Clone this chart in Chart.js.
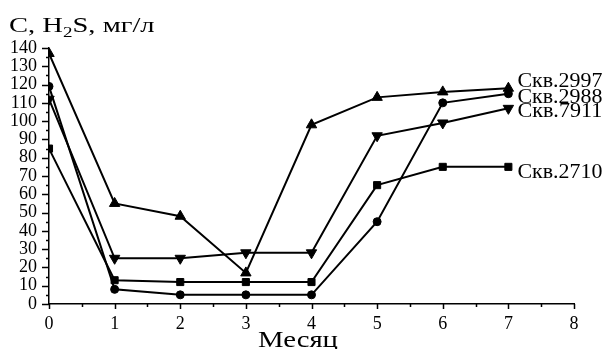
<!DOCTYPE html>
<html><head><meta charset="utf-8">
<script src="https://cdn.jsdelivr.net/npm/chart.js@4"></script>
<style>html,body{margin:0;padding:0;background:#fff}</style>
</head><body>
<canvas id="c" width="605" height="349"></canvas>
<script>
const months = [0, 1, 2, 3, 4, 5, 6, 7];
const s2997 = [137, 55, 48, 17, 98, 113, 116, 118];
const s2988 = [119, 8, 5, 5, 5, 45, 110, 115];
const s7911 = [112, 25, 25, 28, 28, 92, 99, 107];
const s2710 = [85, 13, 12, 12, 12, 65, 75, 75];
const seriesNames = ['Скв.2997', 'Скв.2988', 'Скв.7911', 'Скв.2710'];
const yTitleParts = ['C, H', '2', 'S, мг/л'];
const xTitle = 'Месяц';

const FONT = "'Liberation Serif', 'Times New Roman', serif";
const labelDy = [-8, 2, 2, 4];

function pts(arr){ return months.map((m,i)=>({x:m, y:arr[i]})); }
function ds(label, arr, style, radius, rot){
  return {label, data: pts(arr), borderColor:'#000', backgroundColor:'#000',
    borderWidth:2, pointStyle: style, pointRadius: radius, pointRotation: rot||0,
    pointBorderWidth:1, pointBorderColor:'#000', pointBackgroundColor:'#000', tension:0};
}

function stretchText(ctx, text, x, y, size, width){
  ctx.save();
  ctx.font = size + 'px ' + FONT;
  const w = ctx.measureText(text).width;
  const sx = width ? width / w : 1;
  ctx.translate(x, y);
  ctx.scale(sx, 1);
  ctx.fillText(text, 0, 0);
  ctx.restore();
  return w * sx;
}

const deco = {
  id: 'deco',
  afterDraw(chart){
    const ctx = chart.ctx;
    const xs = chart.scales.x, ys = chart.scales.y;
    const left = chart.chartArea.left, bottom = chart.chartArea.bottom;
    ctx.save();
    ctx.strokeStyle = '#000'; ctx.lineWidth = 1.5;
    ctx.beginPath();
    for (let v = 0; v <= 140; v += 5){
      const p = Math.round(ys.getPixelForValue(v)) + 0.5;
      const len = v % 10 === 0 ? 7 : 3;
      ctx.moveTo(left - len, p); ctx.lineTo(left, p);
    }
    for (let v = 0; v <= 8; v += 0.5){
      const p = Math.round(xs.getPixelForValue(v)) + 0.5;
      const len = v % 1 === 0 ? 5 : 3;
      ctx.moveTo(p, bottom); ctx.lineTo(p, bottom + len);
    }
    ctx.stroke();
    ctx.fillStyle = '#000';
    ctx.textBaseline = 'alphabetic';
    ctx.textAlign = 'left';
    const sx = 1.36;
    ctx.save(); ctx.translate(9, 32); ctx.scale(sx, 1);
    ctx.font = '21px ' + FONT;
    let cx = 0;
    ctx.fillText(yTitleParts[0], cx, 0); cx += ctx.measureText(yTitleParts[0]).width;
    ctx.font = '14px ' + FONT;
    ctx.fillText(yTitleParts[1], cx, 5); cx += ctx.measureText(yTitleParts[1]).width;
    ctx.font = '21px ' + FONT;
    ctx.fillText(yTitleParts[2], cx, 0);
    ctx.restore();
    stretchText(ctx, xTitle, 258, 347, 23, 80);
    chart.data.datasets.forEach((d, i) => {
      const meta = chart.getDatasetMeta(i);
      const el = meta.data[meta.data.length - 1];
      stretchText(ctx, seriesNames[i], el.x + 9, el.y + labelDy[i] + 7, 20, 85);
    });
    ctx.restore();
  }
};

new Chart(document.getElementById('c'), {
  type: 'line',
  data: { datasets: [
    ds(seriesNames[0], s2997, 'triangle', 6),
    ds(seriesNames[1], s2988, 'circle', 4),
    ds(seriesNames[2], s7911, 'triangle', 6, 180),
    ds(seriesNames[3], s2710, 'rect', 5)
  ]},
  options: {
    responsive: false, animation: false, devicePixelRatio: 1,
    layout: { padding: { top: 48, right: 31, left: 0, bottom: 0 } },
    plugins: { legend: { display: false }, tooltip: { enabled: false } },
    scales: {
      x: { type: 'linear', min: 0, max: 8,
        ticks: { stepSize: 1, autoSkip: false, maxRotation: 0, color: '#000', padding: 1, font: { family: FONT, size: 18 } },
        grid: { display: false }, border: { display: true, color: '#000', width: 1.5 },
        afterFit: s => { s.height = 45; } },
      y: { type: 'linear', min: 0, max: 140,
        ticks: { stepSize: 10, autoSkip: false, color: '#000', padding: 4, font: { family: FONT, size: 18 } },
        grid: { display: false }, border: { display: true, color: '#000', width: 1.5 },
        afterFit: s => { s.width = 49; } }
    }
  },
  plugins: [deco]
});
</script>
</body></html>
